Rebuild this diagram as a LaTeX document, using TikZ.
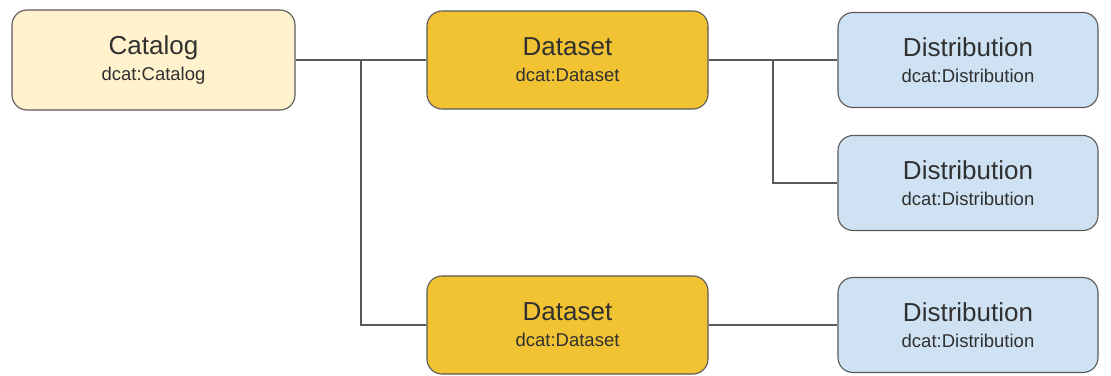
\documentclass[tikz,border=0pt]{standalone}
\usepackage{fontspec}
\setmainfont{Liberation Sans}
\usetikzlibrary{calc}
\usetikzlibrary{positioning}
\definecolor{catfill}{HTML}{FFF2CC}
\definecolor{setfill}{HTML}{F1C232}
\definecolor{distfill}{HTML}{CFE2F3}
\definecolor{edgegray}{HTML}{595959}
\definecolor{textgray}{HTML}{303030}
\tikzstyle{boxnode} = [draw=edgegray, line width=1.1pt, rounded corners=15pt, align=center, minimum height=98pt, text=textgray, font=\fontsize{18.5}{26}\selectfont]
\tikzstyle{catnode} = [boxnode, fill=catfill, minimum width=283pt, minimum height=100pt]
\tikzstyle{setnode} = [boxnode, fill=setfill, minimum width=281pt]
\tikzstyle{distnode} = [boxnode, fill=distfill, minimum width=260pt, minimum height=95pt]
\tikzstyle{link} = [draw=edgegray, line width=1.2pt]
\newcommand{\boxtext}[2]{{\fontsize{26}{26}\selectfont #1}\\#2}

\begin{document}
\begin{tikzpicture}[x=1pt, y=-1pt]
\useasboundingbox (0,0) rectangle (1111,375);
\node[catnode] (catalog) at (153.5,60) {\boxtext{Catalog}{dcat:Catalog}};
\node[setnode] (set_a) at ($(catalog)+(414,0)$) {\boxtext{Dataset}{dcat:Dataset}};
\node[setnode] (set_b) at ($(set_a)+(0,265)$) {\boxtext{Dataset}{dcat:Dataset}};
\node[distnode] (dist_a) at ($(set_a)+(400.5,0)$) {\boxtext{Distribution}{dcat:Distribution}};
\node[distnode] (dist_b) at ($(dist_a)+(0,123)$) {\boxtext{Distribution}{dcat:Distribution}};
\node[distnode] (dist_c) at ($(set_b)+(400.5,0)$) {\boxtext{Distribution}{dcat:Distribution}};

\coordinate (fork_a) at ($(catalog.east)!0.5!(set_a.west)$);
\coordinate (fork_b) at ($(set_a.east)!0.5!(dist_a.west)$);
\draw[link] (catalog.east) -- (set_a.west);
\draw[link] (fork_a) |- (set_b.west);
\draw[link] (set_a.east) -- (dist_a.west);
\draw[link] (fork_b) |- (dist_b.west);
\draw[link] (set_b.east) -- (dist_c.west);
\end{tikzpicture}
\end{document}
